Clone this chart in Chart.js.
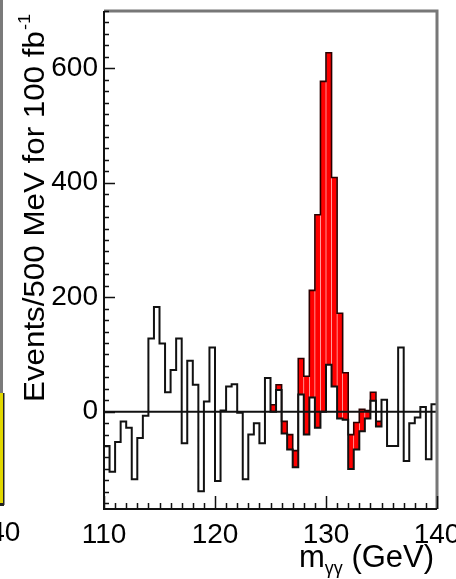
<!DOCTYPE html>
<html>
<head>
<meta charset="utf-8">
<title>m_gg background-subtracted</title>
<script src="https://cdn.jsdelivr.net/npm/chart.js@4.4.1/dist/chart.umd.min.js"></script>
<style>
    html, body { margin: 0; padding: 0; background: #fff; }
    #wrap { width: 456px; height: 579px; position: relative; }
</style>
</head>
<body>
<div id="wrap"><canvas id="chart" width="456" height="579"></canvas></div>
<script>
// Binning: 60 bins of 500 MeV between 110 and 140 GeV
const massMin = 110;
const massMax = 140;
const binWidth = 0.5;

// Background-subtracted events per bin (black outline), bin 0 = 110-110.5 GeV
const bkgSubtracted = [
    -60, -105, -53, -17, -28, -118, -46, -7, 128, 183,
    119, 34, 73, 128, -55, 89, 47, -139, 18, 112,
    -121, 2, 44, 48, -2, -118, -40, -20, -55, 59,
    0, 38, -38, -66, -97, 30, -40, 25, -28, 0,
    82, 44, -12, -14, -100, -66, -34, -12, 19, -26,
    21, -60, -60, 112, -86, -20, -10, 8, -83, 13
];

// Signal window (red): first bin index and upper edge of the red fill per bin
const signalFirstBin = 30;
const signalTop = [
    12, 47, -17, -40, -68, 93, 62, 212, 344, 577,
    627, 409, 172, 68, -40, -19, 4, 2, 34, -17
];

// Axis ticks
const yTicks = [0, 200, 400, 600];
const xTicks = [110, 120, 130, 140];
const yMin = -170;
const yMax = 700;

const FONT = '"Liberation Sans", Arial, Helvetica, sans-serif';

// Build chart data from the arrays
function stepPoints(values, firstBin) {
    const pts = values.map((v, i) => ({ x: massMin + (firstBin + i) * binWidth, y: v }));
    pts.push({ x: massMin + (firstBin + values.length) * binWidth, y: values[values.length - 1] });
    return pts;
}

const redBars = signalTop.map((top, i) => {
    const bin = signalFirstBin + i;
    return { x: massMin + (bin + 0.5) * binWidth, y: [bkgSubtracted[bin], top] };
});

// keep the plot box where it is in the picture, labels may overflow
function noLabelPadding(s) {
    s.paddingLeft = 0;
    s.paddingRight = 0;
    s.paddingTop = 0;
    s.paddingBottom = 0;
}

// Draws frame, inner ticks, zero line, titles
const decorations = {
    id: 'decorations',
    afterDatasetsDraw(chart) {
        const { ctx, chartArea: a, scales: { x, y } } = chart;
        ctx.save();

        // zero line
        ctx.strokeStyle = '#111';
        ctx.lineWidth = 2;
        ctx.beginPath();
        ctx.moveTo(a.left, y.getPixelForValue(0));
        ctx.lineTo(a.right, y.getPixelForValue(0));
        ctx.stroke();

        // frame: top/right grey, left/bottom black
        ctx.strokeStyle = '#777';
        ctx.lineWidth = 3;
        ctx.beginPath();
        ctx.moveTo(a.left, a.top);
        ctx.lineTo(a.right, a.top);
        ctx.lineTo(a.right, a.bottom);
        ctx.stroke();
        ctx.strokeStyle = '#111';
        ctx.lineWidth = 2;
        ctx.beginPath();
        ctx.moveTo(a.left, a.top);
        ctx.lineTo(a.left, a.bottom);
        ctx.lineTo(a.right, a.bottom);
        ctx.stroke();

        // y ticks, pointing inward
        ctx.lineWidth = 1.5;
        ctx.beginPath();
        for (let v = -160; v <= yMax; v += 20) {
            const len = yTicks.includes(v) ? 11 : 5;
            const py = Math.round(y.getPixelForValue(v)) + 0.5;
            ctx.moveTo(a.left, py);
            ctx.lineTo(a.left + len, py);
        }
        // x ticks, pointing up
        for (let m = massMin; m <= massMax; m += 1) {
            const len = xTicks.includes(m) ? 13 : 6;
            const px = Math.round(x.getPixelForValue(m)) + 0.5;
            ctx.moveTo(px, a.bottom);
            ctx.lineTo(px, a.bottom - len);
        }
        ctx.stroke();
        ctx.restore();
    },
    afterDraw(chart) {
        const { ctx } = chart;
        ctx.save();

        // sliver of the neighbouring panel on the left
        ctx.fillStyle = '#7a7a7a';
        ctx.fillRect(0, 0, 3, 393);
        ctx.fillStyle = '#e2d800';
        ctx.fillRect(0, 393, 3, 110);
        ctx.fillStyle = '#222';
        ctx.fillRect(3, 393, 1.5, 112);
        ctx.fillRect(0, 503, 4, 3);
        ctx.fillStyle = '#000';
        ctx.font = `28px ${FONT}`;
        ctx.textAlign = 'center';
        ctx.textBaseline = 'alphabetic';
        ctx.fillText('140', -3, 541);

        // y axis title with superscript
        ctx.translate(44, 402);
        ctx.rotate(-Math.PI / 2);
        ctx.scale(1.08, 1);
        ctx.textAlign = 'left';
        ctx.font = `29px ${FONT}`;
        const main = 'Events/500 MeV for 100 fb';
        ctx.fillText(main, 0, 0);
        const w = ctx.measureText(main).width;
        ctx.font = `17px ${FONT}`;
        ctx.fillText('-1', w + 1, -14);
        ctx.setTransform(1, 0, 0, 1, 0, 0);

        // x axis title m_γγ (GeV)
        ctx.textAlign = 'left';
        ctx.font = `31px ${FONT}`;
        ctx.fillText('m', 299, 567);
        const mw = ctx.measureText('m').width;
        ctx.font = `18px ${FONT}`;
        ctx.fillText('γγ', 299 + mw, 574);
        const gw = ctx.measureText('γγ').width;
        ctx.font = `31px ${FONT}`;
        ctx.fillText(' (GeV)', 299 + mw + gw, 567);
        ctx.restore();
    }
};

const chart = new Chart(document.getElementById('chart'), {
    type: 'bar',
    data: {
        datasets: [{
            type: 'line',
            label: 'data - background',
            data: stepPoints(bkgSubtracted, 0),
            stepped: true,
            borderColor: '#111',
            borderWidth: 2,
            pointRadius: 0,
            fill: false,
            order: 0
        }, {
            type: 'line',
            label: 'signal outline',
            data: stepPoints(signalTop, signalFirstBin),
            stepped: true,
            borderColor: '#2a0000',
            borderWidth: 1.6,
            pointRadius: 0,
            fill: false,
            order: 1
        }, {
            type: 'bar',
            label: 'signal',
            data: redBars,
            backgroundColor: '#ff0000',
            borderWidth: 0,
            barPercentage: 0.9,
            categoryPercentage: 1.0,
            grouped: false,
            order: 2
        }]
    },
    options: {
        responsive: false,
        animation: false,
        events: [],
        layout: { padding: { top: 11, right: 19, left: 0, bottom: 0 } },
        plugins: { legend: { display: false }, tooltip: { enabled: false } },
        scales: {
            x: {
                type: 'linear',
                min: massMin,
                max: massMax,
                offset: false,
                afterBuildTicks: s => { s.ticks = xTicks.map(v => ({ value: v })); },
                afterFit: s => { s.height = 70; noLabelPadding(s); },
                grid: { display: false, drawTicks: false },
                border: { display: false },
                ticks: {
                    color: '#000',
                    padding: 9,
                    maxRotation: 0,
                    font: { family: FONT, size: 28 }
                }
            },
            y: {
                type: 'linear',
                min: yMin,
                max: yMax,
                afterBuildTicks: s => { s.ticks = yTicks.map(v => ({ value: v })); },
                afterFit: s => { s.width = 104; noLabelPadding(s); },
                grid: { display: false, drawTicks: false },
                border: { display: false },
                ticks: {
                    color: '#000',
                    padding: 6,
                    font: { family: FONT, size: 28 }
                }
            }
        }
    },
    plugins: [decorations]
});
</script>
</body>
</html>
